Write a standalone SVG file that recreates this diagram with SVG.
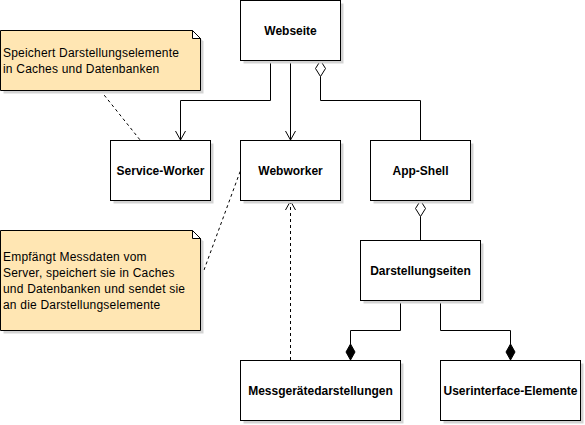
<svg xmlns="http://www.w3.org/2000/svg" width="585" height="425" viewBox="0 0 585 425">
<defs>
<style>
.sh{fill:#d3d3d3;stroke:none}
.box{fill:#ffffff;stroke:#000000;stroke-width:1}
.note{fill:#ffe6b3;stroke:#000000;stroke-width:1}
.fold{fill:#ffffff;stroke:#000000;stroke-width:1}
.lbl{font-family:"Liberation Sans",Arial,sans-serif;font-size:12px;font-weight:bold;text-anchor:middle;fill:#000}
.ntxt{font-family:"Liberation Sans",Arial,sans-serif;font-size:12px;letter-spacing:0.2px;fill:#000}
.ln{fill:none;stroke:#000;stroke-width:1}
.dash{fill:none;stroke:#000;stroke-width:1;stroke-dasharray:3,3}
.open{fill:#fff;stroke:#000;stroke-width:1}
.filled{fill:#000;stroke:#000;stroke-width:1}
</style>
</defs>
<rect width="585" height="425" fill="#ffffff"/>
<g id="connectors">
<polyline class="ln" points="270.5,60.5 270.5,100.5 180.5,100.5 180.5,140"/>
<polyline class="ln" points="175.5,131 180.5,140 185.5,131"/>
<line class="ln" x1="290.5" y1="60.5" x2="290.5" y2="140"/>
<polyline class="ln" points="285.5,131 290.5,140 295.5,131"/>
<polyline class="ln" points="320.5,76.5 320.5,100.5 420.5,100.5 420.5,140.5"/>
<polygon class="open" points="320.5,60.5 325.5,68.5 320.5,76.5 315.5,68.5"/>
<line class="ln" x1="420.5" y1="216.5" x2="420.5" y2="240.5"/>
<polygon class="open" points="420.5,200.5 425.5,208.5 420.5,216.5 415.5,208.5"/>
<polyline class="ln" points="400.5,300.5 400.5,330.5 350.5,330.5 350.5,344"/>
<polygon class="filled" points="350.5,344 355,352 350.5,360 346,352"/>
<polyline class="ln" points="440.5,300.5 440.5,330.5 510.5,330.5 510.5,344"/>
<polygon class="filled" points="510.5,344 515,352 510.5,360 506,352"/>
<line class="dash" x1="290.5" y1="360" x2="290.5" y2="201"/>
<polyline class="ln" points="285.5,210 290.5,201 295.5,210"/>
<line class="dash" x1="100.5" y1="90.5" x2="140.5" y2="140.5"/>
<line class="dash" x1="204" y1="270" x2="240.5" y2="170.5"/>
</g>
<g id="note1">
<path class="sh" d="M3.5,33.5 H195.5 L203.5,41.5 V93.5 H3.5 Z"/>
<path class="note" d="M0.5,30.5 H192.5 L200.5,38.5 V90.5 H0.5 Z"/>
<path class="fold" d="M192.5,30.5 V38.5 H200.5 Z"/>
<text class="ntxt" x="3" y="57">Speichert Darstellungselemente</text>
<text class="ntxt" x="3" y="73">in Caches und Datenbanken</text>
</g>
<g id="note2">
<path class="sh" d="M3.5,233.5 H195.5 L203.5,241.5 V333.5 H3.5 Z"/>
<path class="note" d="M0.5,230.5 H192.5 L200.5,238.5 V330.5 H0.5 Z"/>
<path class="fold" d="M192.5,230.5 V238.5 H200.5 Z"/>
<text class="ntxt" x="3" y="261">Empfängt Messdaten vom</text>
<text class="ntxt" x="3" y="277">Server, speichert sie in Caches</text>
<text class="ntxt" x="3" y="293">und Datenbanken und sendet sie</text>
<text class="ntxt" x="3" y="309">an die Darstellungselemente</text>
</g>
<g id="webseite">
<rect class="sh" x="243.5" y="3.5" width="100" height="60"/>
<rect class="box" x="240.5" y="0.5" width="100" height="60"/>
<text class="lbl" x="290.5" y="35">Webseite</text>
</g>
<g id="service-worker">
<rect class="sh" x="113.5" y="143.5" width="100" height="60"/>
<rect class="box" x="110.5" y="140.5" width="100" height="60"/>
<text class="lbl" x="160.5" y="175">Service-Worker</text>
</g>
<g id="webworker">
<rect class="sh" x="243.5" y="143.5" width="100" height="60"/>
<rect class="box" x="240.5" y="140.5" width="100" height="60"/>
<text class="lbl" x="290.5" y="175">Webworker</text>
</g>
<g id="app-shell">
<rect class="sh" x="373.5" y="143.5" width="100" height="60"/>
<rect class="box" x="370.5" y="140.5" width="100" height="60"/>
<text class="lbl" x="420.5" y="175">App-Shell</text>
</g>
<g id="darstellungseiten">
<rect class="sh" x="363.5" y="243.5" width="120" height="60"/>
<rect class="box" x="360.5" y="240.5" width="120" height="60"/>
<text class="lbl" x="420.5" y="275">Darstellungseiten</text>
</g>
<g id="messgeraetedarstellungen">
<rect class="sh" x="243.5" y="363.5" width="160" height="60"/>
<rect class="box" x="240.5" y="360.5" width="160" height="60"/>
<text class="lbl" x="320.5" y="395">Messgerätedarstellungen</text>
</g>
<g id="userinterface-elemente">
<rect class="sh" x="443.5" y="363.5" width="140" height="60"/>
<rect class="box" x="440.5" y="360.5" width="140" height="60"/>
<text class="lbl" x="510.5" y="395">Userinterface-Elemente</text>
</g>
</svg>
